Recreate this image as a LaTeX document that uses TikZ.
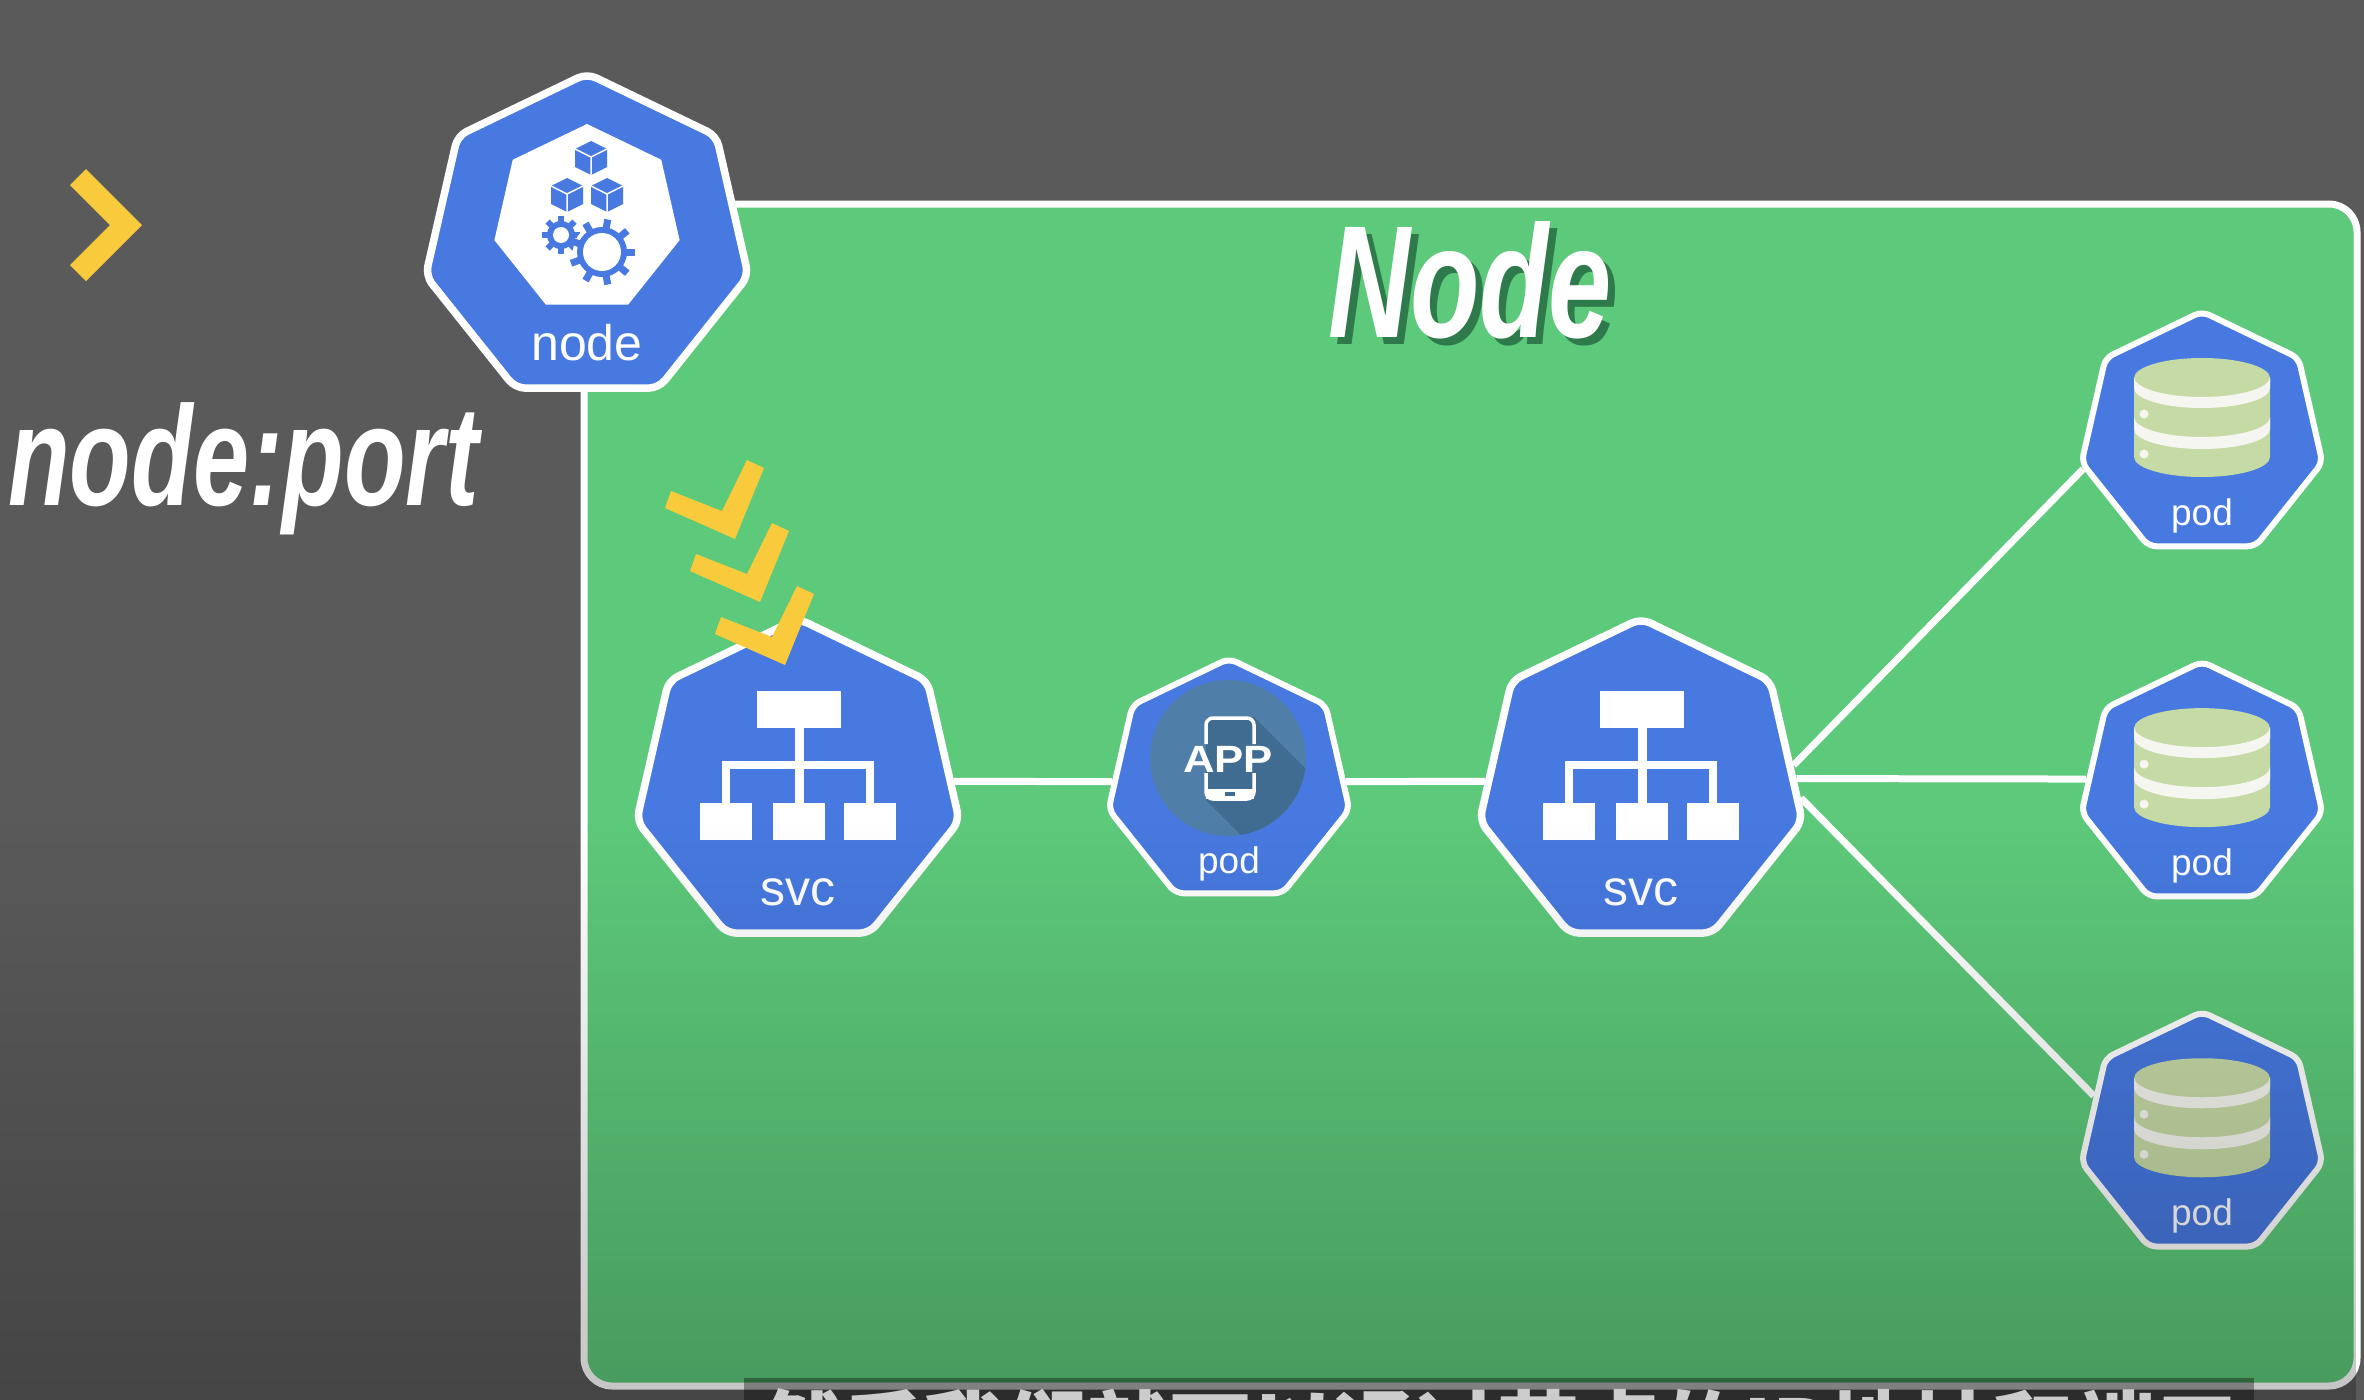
\documentclass[tikz,border=0pt]{standalone}
\usepackage{fontspec}
\setmainfont{Liberation Sans}
\newfontfamily\headfont[FakeStretch=0.71]{Liberation Sans}
\newfontfamily\appfont[FakeStretch=1.15]{Liberation Sans}
\newfontfamily\cjkfont{Noto Sans CJK SC}
\usetikzlibrary{positioning,shapes.geometric,fadings}
\definecolor{slategray}{HTML}{5A5A5A}
\definecolor{panelgreen}{HTML}{5DC97A}
\definecolor{titleshade}{HTML}{2F7A4A}
\definecolor{hubblue}{HTML}{4779E0}
\definecolor{markyellow}{HTML}{F8CA3C}
\definecolor{dbgreen}{HTML}{C6DAA6}
\definecolor{dbband}{HTML}{F6F6F0}
\definecolor{appdisc}{HTML}{4F7FA8}
\definecolor{appshade}{HTML}{416C92}
\tikzfading[name=dimfade, top color=transparent!100, bottom color=transparent!77]

\begin{document}
\begin{tikzpicture}[x=1pt,y=-1pt]
\tikzset{
  hepbig/.style={regular polygon, regular polygon sides=7, minimum size=331pt, inner sep=0pt,
    rounded corners=10pt, fill=hubblue, draw=white, line width=7.5pt},
  hepsmall/.style={regular polygon, regular polygon sides=7, minimum size=247pt, inner sep=0pt,
    rounded corners=8pt, fill=hubblue, draw=white, line width=6pt},
  hepinner/.style={regular polygon, regular polygon sides=7, minimum size=190pt, inner sep=0pt, fill=white},
  biglab/.style={anchor=base, inner sep=0pt, text=white, font=\fontsize{50}{50}\selectfont},
  podlab/.style={anchor=base, inner sep=0pt, text=white, font=\fontsize{37}{37}\selectfont},
  headlab/.style={anchor=base, inner sep=0pt, font=\headfont\bfseries\itshape\fontsize{160}{160}\selectfont},
  portlab/.style={anchor=base west, inner sep=0pt, text=white, font=\headfont\bfseries\itshape\fontsize{142}{142}\selectfont},
  applab/.style={inner sep=0pt, text=white, font=\appfont\bfseries\fontsize{38}{38}\selectfont},
  wire/.style={draw=white, line width=7pt},
  panel/.style={fill=panelgreen, draw=white, line width=7pt, rounded corners=28pt}
}

\useasboundingbox (0,0) rectangle (2364,1400);
\fill[slategray] (0,0) rectangle (2364,1400);
\draw[panel] (584,204) rectangle (2357,1386);

\node[hepbig] (nodehub) at (587,239) {};
\node[hepbig] (svcA) at (798,784) {};
\node[hepsmall, right=157pt of svcA, yshift=2pt] (app) {};
\node[hepbig, right=138pt of app, yshift=-2pt] (svcB) {};
\node[hepsmall] (podA) at (2202,435) {};
\node[hepsmall, below=109pt of podA] (podB) {};
\node[hepsmall, below=109pt of podB] (podC) {};

\draw[wire] (svcA.1) -- (app);
\draw[wire] (app) -- (svcB.179);
\draw[wire] (svcB.7) -- (podA.196);
\draw[wire] (svcB.2) -- (podB.177);
\draw[wire] (svcB.-5) -- (podC.160);

\node[hepinner] (nodeicon) at (587,219) {};
\foreach \cx/\cy in {591/158,567/195,607/195} {
  \begin{scope}[shift={(\cx,\cy)}]
    \fill[hubblue] (0,-17) -- (16,-9) -- (16,9) -- (0,17) -- (-16,9) -- (-16,-9) -- cycle;
    \draw[white, line width=1.5pt] (-16,-9) -- (0,-1) -- (16,-9) (0,-1) -- (0,17);
  \end{scope}
}
\begin{scope}[shift={(561,235)}]
  \foreach \a in {0,45,...,315} \draw[hubblue, line width=6pt] (\a:12pt) -- (\a:19pt);
  \fill[hubblue] (0,0) circle[radius=14pt];
  \fill[white] (0,0) circle[radius=8pt];
\end{scope}
\begin{scope}[shift={(602,252)}]
  \fill[white] (0,0) circle[radius=29pt];
  \foreach \a in {0,40,...,320} \draw[hubblue, line width=7pt] (\a:22pt) -- (\a:33pt);
  \fill[hubblue] (0,0) circle[radius=25pt];
  \fill[white] (0,0) circle[radius=19pt];
\end{scope}

\foreach \hub in {svcA,svcB} {
  \begin{scope}[shift={(\hub)}]
    \fill[white] (-41,-93) rectangle (43,-56);
    \draw[white, line width=9pt] (1,-56) -- (1,19);
    \draw[white, line width=8pt] (-72,19) -- (-72,-19) -- (72,-19) -- (72,19);
    \foreach \bx in {-98,-25,46} \fill[white] (\bx,19) rectangle ++(52,37);
  \end{scope}
}

\begin{scope}[shift={(app)}]
  \begin{scope}
    \clip (-1,-24) circle[radius=78pt];
    \fill[appdisc] (-1,-24) circle[radius=78pt];
    \fill[appshade] (-23,-65) -- (25,-65) -- (110,20) -- (110,101) -- (60,101) -- (-23,18) -- cycle;
  \end{scope}
  \draw[white, line width=3.5pt, rounded corners=7pt] (-23,-38) -- (-23,-64) -- (25,-64) -- (25,-38);
  \draw[white, line width=3.5pt, rounded corners=7pt] (-23,-9) -- (-23,17) -- (25,17) -- (25,-9);
  \fill[white] (-23,7) rectangle (25,17);
  \fill[appshade] (-4,10) rectangle (6,14);
  \node[applab] (applabel) at (-1,-23) {APP};
\end{scope}

\foreach \pod in {podA,podB,podC} {
  \begin{scope}[shift={(\pod)}]
    \fill[dbgreen] (-68,-57) -- (-68,22) arc[start angle=180, end angle=360, x radius=68pt, y radius=20pt]
      -- (68,-57) arc[start angle=0, end angle=180, x radius=68pt, y radius=20pt] -- cycle;
    \foreach \up/\lo in {-58/-47,-18/-6} {
      \fill[dbband] (-68,\up) arc[start angle=180, end angle=360, x radius=68pt, y radius=20pt]
        -- (68,\lo) arc[start angle=360, end angle=180, x radius=68pt, y radius=20pt] -- cycle;
    }
    \foreach \dy in {-21,19} \fill[dbband] (-58,\dy) circle[radius=4.5pt];
  \end{scope}
}

\node[biglab] (nodelab) at ([yshift=-121pt]nodehub.center) {node};
\node[biglab] (svcAlab) at ([yshift=-121pt]svcA.center) {svc};
\node[biglab] (svcBlab) at ([yshift=-121pt]svcB.center) {svc};
\node[podlab] (applab) at ([yshift=-91pt]app.center) {pod};
\node[podlab] (podAlab) at ([yshift=-90pt]podA.center) {pod};
\node[podlab] (podBlab) at ([yshift=-90pt]podB.center) {pod};
\node[podlab] (podClab) at ([yshift=-90pt]podC.center) {pod};

\node[headlab, text=titleshade] (titleshadow) at (1477,344) {Node};
\node[headlab, text=white] (title) at ([xshift=-7pt,yshift=7pt]titleshadow.base) {Node};
\node[portlab] (portlabel) at (8,505) {node:port};

\fill[markyellow] (86,169) -- (142,225) -- (86,281) -- (70,265) -- (110,225) -- (70,185) -- cycle;
\foreach \i in {0,1,2} {
  \fill[markyellow, shift={({\i*25},{\i*63})}] (747,460) -- (764,468) -- (735,539) -- (665,508) -- (671,491) -- (722,511) -- cycle;
}

\fill[black, path fading=dimfade] (0,820) rectangle (2364,1400);

\begin{scope}
  \clip (744,1378) rectangle (2254,1400);
  \fill[black, opacity=0.35] (744,1378) rectangle (2254,1400);
  \node[anchor=base, inner sep=0pt, text=white!80!black, font=\cjkfont\bfseries\fontsize{82}{82}\selectfont] (subtitle) at (1499,1459) {然后我们就可以通过节点的IP地址和端口};
\end{scope}
\end{tikzpicture}
\end{document}
